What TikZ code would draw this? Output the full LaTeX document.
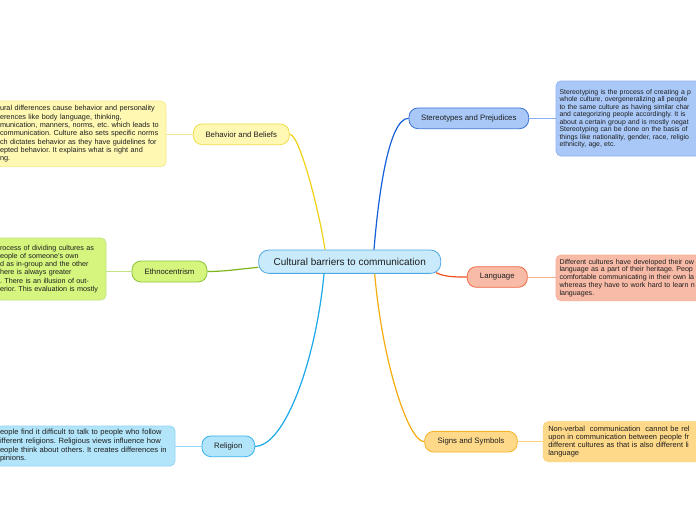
\documentclass[tikz,border=0pt]{standalone}
\usepackage{fontspec}
\setmainfont{Liberation Sans}
\frenchspacing
\definecolor{txt}{HTML}{1E1E1E}
\definecolor{cfill}{HTML}{C9EAFA}\definecolor{cdraw}{HTML}{4FA7E3}
\definecolor{yfill}{HTML}{FFF8B3}\definecolor{ydraw}{HTML}{F0DC4A}\definecolor{yline}{HTML}{EFD215}\definecolor{ylight}{HTML}{F6E98C}
\definecolor{bfill}{HTML}{A9C8F8}\definecolor{bdraw}{HTML}{3A74D8}\definecolor{bline}{HTML}{1560D8}\definecolor{blight}{HTML}{8DB1F0}
\definecolor{gfill}{HTML}{D5F57E}\definecolor{gdraw}{HTML}{8CC43A}\definecolor{gline}{HTML}{7DB51A}\definecolor{glight}{HTML}{C2E283}
\definecolor{rfill}{HTML}{F8BBA8}\definecolor{rdraw}{HTML}{F06A44}\definecolor{rline}{HTML}{F0501E}\definecolor{rlight}{HTML}{F8AC92}
\definecolor{cyfill}{HTML}{B3E5FA}\definecolor{cydraw}{HTML}{34B3EE}\definecolor{cyline}{HTML}{1AA8E8}\definecolor{cylight}{HTML}{92D5F6}
\definecolor{ofill}{HTML}{FFD98A}\definecolor{odraw}{HTML}{F5B424}\definecolor{oline}{HTML}{F5AC0F}\definecolor{olight}{HTML}{FAD174}
\tikzset{
  topic/.style={draw, rounded corners=9pt, line width=0.8pt, inner sep=0pt, text=txt, font=\fontsize{7.8}{9}\selectfont},
  para/.style={draw, rounded corners=5pt, line width=0.7pt, align=left, text=txt, inner ysep=0pt},
  branch/.style={line width=1.2pt},
  twig/.style={line width=0.8pt}
}
\begin{document}
\begin{tikzpicture}[x=1pt,y=-1pt]
\clip (0,0) rectangle (696,520);
\fill[white] (0,0) rectangle (696,520);
% central
\node[draw=cdraw, fill=cfill, rounded corners=10pt, line width=0.8pt, inner sep=0pt, minimum width=182pt, minimum height=23.3pt, text=txt, font=\fontsize{10}{12}\selectfont] (c) at (349.7,261.7) {Cultural barriers to communication};
% topics
\node[topic, draw=ydraw, fill=yfill, minimum width=96pt, minimum height=20.7pt] (beh) at (241.3,134.3) {Behavior and Beliefs};
\node[topic, draw=bdraw, fill=bfill, minimum width=119.7pt, minimum height=20.7pt] (st) at (468.8,118.3) {Stereotypes and Prejudices};
\node[topic, draw=gdraw, fill=gfill, minimum width=75pt, minimum height=21pt] (eth) at (169.5,271.5) {Ethnocentrism};
\node[topic, draw=rdraw, fill=rfill, minimum width=60pt, minimum height=20.6pt] (lang) at (497.3,277) {Language};
\node[topic, draw=cydraw, fill=cyfill, minimum width=52.7pt, minimum height=20.7pt] (rel) at (228.3,446.3) {Religion};
\node[topic, draw=odraw, fill=ofill, minimum width=92.6pt, minimum height=20.7pt] (sig) at (471,441.7) {Signs and Symbols};
% paragraph boxes
\node[para, draw=ylight, fill=yfill, minimum width=170pt, minimum height=65.7pt, text width=162pt, inner xsep=4pt, font=\fontsize{7.3}{8.33}\selectfont] (behT) at (81,133.85) {ural differences cause behavior and personality\\erences like body language, thinking,\\munication, manners, norms, etc. which leads to\\communication. Culture also sets specific norms\\ch dictates behavior as they have guidelines for\\epted behavior. It explains what is right and\\ng.};
\node[para, draw=glight, fill=gfill, minimum width=110pt, minimum height=62pt, text width=102pt, inner xsep=4pt, font=\fontsize{7.2}{8.2}\selectfont] (ethT) at (51,269) {rocess of dividing cultures as\\eople of someone's own\\d as in-group and the other\\here is always greater\\. There is an illusion of out-\\erior. This evaluation is mostly};
\node[para, draw=cylight, fill=cyfill, minimum width=179pt, minimum height=40pt, text width=171pt, inner xsep=4pt, font=\fontsize{7.6}{8.67}\selectfont] (relT) at (85.5,446) {eople find it difficult to talk to people who follow\\ifferent religions. Religious views influence how\\eople think about others. It creates differences in\\pinions.};
\node[para, draw=blight, fill=bfill, minimum width=204pt, minimum height=75pt, text width=197pt, inner xsep=3.5pt, font=\fontsize{6.9}{7.5}\selectfont] (stT) at (658,118.5) {Stereotyping is the process of creating a p\\whole culture, overgeneralizing all people\\to the same culture as having similar char\\and categorizing people accordingly. It is\\about a certain group and is mostly negat\\Stereotyping can be done on the basis of\\things like nationality, gender, race, religio\\ethnicity, age, etc.};
\node[para, draw=rlight, fill=rfill, minimum width=204pt, minimum height=45.7pt, text width=197pt, inner xsep=3.5pt, font=\fontsize{7.1}{7.7}\selectfont] (langT) at (658,277.85) {Different cultures have developed their ow\\language as a part of their heritage. Peop\\comfortable communicating in their own la\\whereas they have to work hard to learn n\\languages.};
\node[para, draw=olight, fill=ofill, minimum width=216.7pt, minimum height=40pt, text width=206.7pt, inner xsep=5pt, font=\fontsize{7.5}{7.8}\selectfont] (sigT) at (651.65,441.7) {Non-verbal\ \ communication\ \ cannot be rel\\upon in communication between people fr\\different cultures as that is also different li\\language};
% start points on central node
\coordinate (cbeh) at ([xshift=-24.7pt]c.north);
\coordinate (cst) at ([xshift=24.3pt]c.north);
\coordinate (crel) at ([xshift=-25.7pt]c.south);
\coordinate (csig) at ([xshift=25pt]c.south);
\coordinate (ceth) at ([yshift=-5.6pt]c.west);
\coordinate (clang) at ([xshift=-5pt,yshift=1pt]c.south east);
% branches
\draw[branch, yline] (cbeh) .. controls (320,215) and (300,134.3) .. (beh.east);
\draw[branch, bline] (cst) .. controls (378,200) and (388,118.3) .. (st.west);
\draw[branch, gline] (ceth) .. controls (240,269) and (225,271.5) .. (eth.east);
\draw[branch, rline] (clang) .. controls (445,277) and (455,277) .. (lang.west);
\draw[branch, cyline] (crel) .. controls (316,360) and (285,446.3) .. (rel.east);
\draw[branch, oline] (csig) .. controls (382,360) and (408,441.7) .. (sig.west);
% twigs
\draw[twig, ylight] (beh.west) -- (beh.west -| behT.east);
\draw[twig, glight] (eth.west) -- (eth.west -| ethT.east);
\draw[twig, cylight] (rel.west) -- (rel.west -| relT.east);
\draw[twig, blight] (st.east) -- (st.east -| stT.west);
\draw[twig, rlight] (lang.east) -- (lang.east -| langT.west);
\draw[twig, olight] (sig.east) -- (sig.east -| sigT.west);
\end{tikzpicture}
\end{document}
